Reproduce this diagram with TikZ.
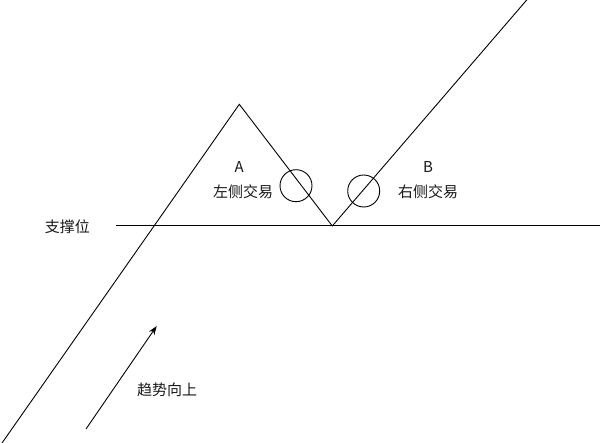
\documentclass[tikz,border=0pt]{standalone}
\usepackage{fontspec}
\newfontfamily\cjk{Noto Sans CJK SC}
\usetikzlibrary{arrows.meta}
\begin{document}
\begin{tikzpicture}[x=1pt,y=-1pt,
  ln/.style={draw=black,line width=0.9pt},
  lbl/.style={font=\cjk\fontsize{15}{16}\selectfont,inner sep=0pt,text=black!90},
  ring/.style={circle,draw=black,line width=0.9pt,minimum size=32pt,inner sep=0pt}]
\useasboundingbox[fill=white] (0,0) rectangle (600,443);
% main price line
\coordinate (start) at (2,443);
\coordinate (peak) at (239.3,104.3);
\coordinate (valley) at (332.3,226);
\coordinate (end) at (526.7,0);
\draw[ln,line join=miter] (start) -- (peak) -- (valley) -- (end);
% support line
\coordinate (s1) at (116,225.5);
\coordinate (s2) at (600,225.5);
\draw[ln] (s1) -- (s2);
\node[lbl,anchor=east] (support) at (90,227) {支撑位};
% circles
\node[ring] (c1) at (296,185.7) {};
\node[ring] (c2) at (363.7,191) {};
% labels
\node[lbl] (A) at (239.3,167.5) {A};
\node[lbl] (left) at (243,192) {左侧交易};
\node[lbl] (B) at (428,167.5) {B};
\node[lbl] (right) at (428,192) {右侧交易};
% trend arrow
\coordinate (a1) at (86,429);
\coordinate (a2) at (156.7,326);
\draw[ln,-{Stealth[length=9pt,width=6.5pt]}] (a1) -- (a2);
\node[lbl,anchor=west] (trend) at (137,390) {趋势向上};
\end{tikzpicture}
\end{document}
